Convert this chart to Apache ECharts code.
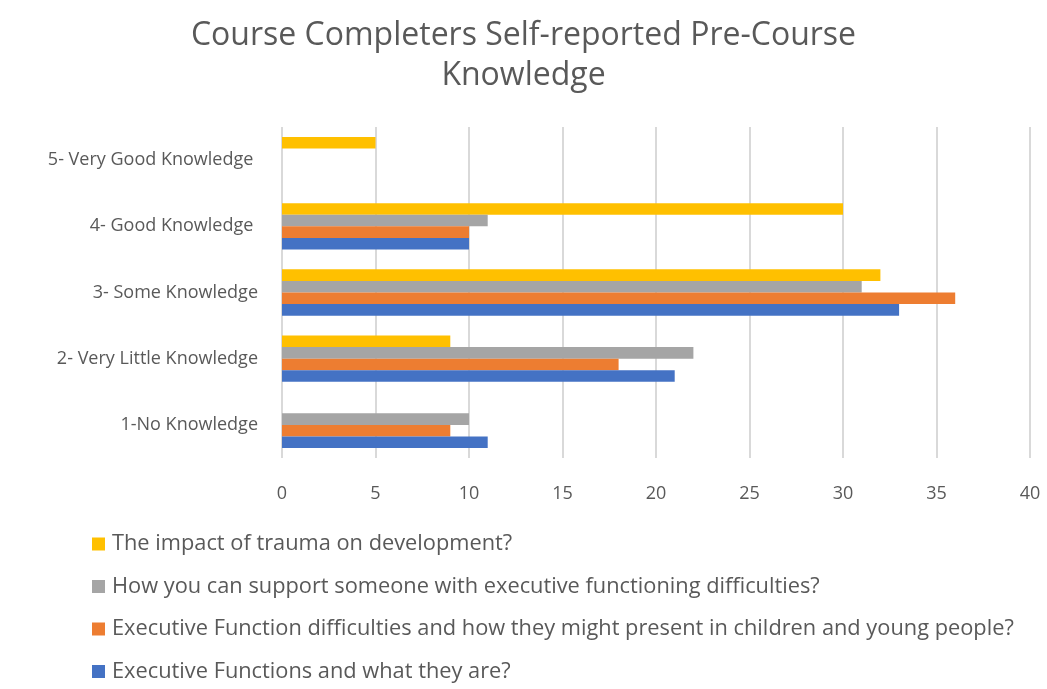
<!DOCTYPE html>
<html>
<head>
<meta charset="utf-8">
<script src="https://cdn.jsdelivr.net/npm/echarts@6/dist/echarts.min.js"></script>
<style>
  html, body { margin: 0; padding: 0; background: #fff; }
  #chart { width: 1047px; height: 689px; }
</style>
</head>
<body>
<div id="chart"></div>
<script>
const categories = ['1-No Knowledge', '2- Very Little Knowledge', '3- Some Knowledge', '4- Good Knowledge ', '5- Very Good Knowledge ']
const seriesNames = [
  'The impact of trauma on development?',
  'How you can support someone with executive functioning difficulties?',
  'Executive Function difficulties and how they might present in children and young people?',
  'Executive Functions and what they are?'
]
const trauma = [0, 9, 32, 30, 5]
const support = [10, 22, 31, 11, 0]
const difficulties = [9, 18, 36, 10, 0]
const functions = [11, 21, 33, 10, 0]
const colors = ['#FFC000', '#A5A5A5', '#ED7D31', '#4472C4']

const FONT = 'Open Sans'
const chart = echarts.init(document.getElementById('chart'))

const seriesData = [trauma, support, difficulties, functions]

const option = {
  animation: false,
  title: {
    text: 'Course Completers Self-reported Pre-Course\nKnowledge',
    left: 'center',
    top: 11,
    textStyle: {
      fontFamily: FONT,
      fontWeight: 'normal',
      fontSize: 32,
      lineHeight: 40,
      color: '#595959'
    }
  },
  legend: {
    orient: 'vertical',
    left: 92,
    top: 533,
    height: 156,
    padding: 0,
    itemWidth: 13,
    itemHeight: 13,
    itemGap: 20.5,
    icon: 'rect',
    data: seriesNames,
    textStyle: { fontFamily: FONT, fontSize: 21.8, color: '#595959', padding: [0, 0, 0, 2] }
  },
  grid: {
    left: 282,
    right: 17,
    top: 127,
    height: 331
  },
  xAxis: {
    type: 'value',
    min: 0,
    max: 40,
    interval: 5,
    axisLine: { show: false },
    axisTick: { show: false },
    splitLine: { lineStyle: { color: '#D9D9D9', width: 2 } },
    axisLabel: { fontFamily: FONT, fontSize: 18, color: '#595959', margin: 27 }
  },
  yAxis: {
    type: 'category',
    data: categories,
    axisLine: { show: false },
    axisTick: { show: false },
    axisLabel: { fontFamily: FONT, fontSize: 18, color: '#595959', margin: 24 }
  },
  series: seriesNames.map((name, i) => ({
    name: name,
    type: 'bar',
    data: seriesData[i],
    barGap: '0%',
    barCategoryGap: '30%',
    itemStyle: { color: colors[i] }
  }))
}

chart.setOption(option)
</script>
</body>
</html>
